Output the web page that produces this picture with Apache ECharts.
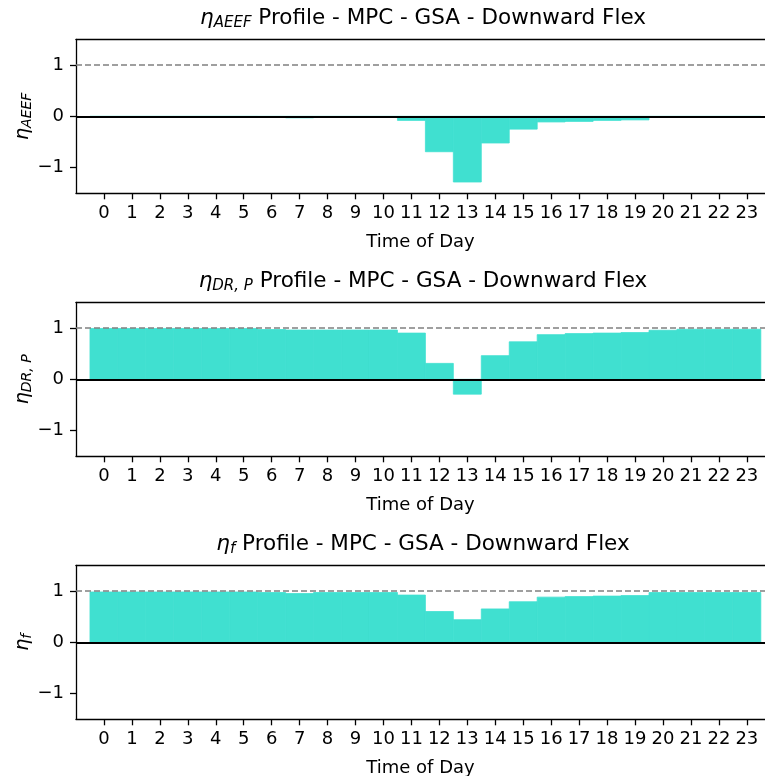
<!DOCTYPE html>
<html>
<head>
<meta charset="utf-8">
<script src="https://cdn.jsdelivr.net/npm/echarts@6/dist/echarts.min.js"></script>
<style>
html,body{margin:0;padding:0;background:#fff;}
#chart{width:765px;height:776px;}
</style>
</head>
<body>
<div id="chart"></div>
<script>
const hours = [0,1,2,3,4,5,6,7,8,9,10,11,12,13,14,15,16,17,18,19,20,21,22,23];
const etaAEEF = [-0.003,-0.003,-0.003,-0.003,-0.003,-0.003,-0.01,-0.03,-0.01,-0.01,-0.02,-0.08,-0.69,-1.28,-0.52,-0.25,-0.11,-0.10,-0.08,-0.07,-0.02,-0.01,-0.01,-0.01];
const etaDRP = [0.99,0.99,0.99,0.99,0.99,0.99,0.97,0.96,0.96,0.96,0.96,0.90,0.31,-0.29,0.46,0.73,0.87,0.89,0.90,0.91,0.955,0.975,0.975,0.975];
const etaF = [0.98,0.98,0.98,0.98,0.98,0.98,0.97,0.95,0.97,0.97,0.97,0.92,0.60,0.44,0.65,0.79,0.88,0.89,0.90,0.91,0.97,0.97,0.97,0.97];
const yTicks = [-1,0,1];
const panelSubs = ['AEEF','DR, P','f'];
const panelData = [etaAEEF, etaDRP, etaF];
const titleRest = ' Profile - MPC - GSA - Downward Flex';

const FONT = 'DejaVu Sans';
const grids = [], xAxes = [], yAxes = [], series = [], titles = [];
const TOP0 = 39.3, STEP = 263, H = 154, LEFT = 76;

const richTitle = {
  e:{fontFamily:FONT,fontStyle:'italic',fontWeight:'normal',fontSize:21.5,color:'#000'},
  s:{fontFamily:FONT,fontStyle:'italic',fontWeight:'normal',fontSize:15,color:'#000',padding:[9,0,0,0]},
  n:{fontFamily:FONT,fontWeight:'normal',fontSize:21.5,color:'#000'}
};
const richY = {
  e:{fontFamily:FONT,fontStyle:'italic',fontWeight:'normal',fontSize:19,color:'#000'},
  s:{fontFamily:FONT,fontStyle:'italic',fontWeight:'normal',fontSize:14,color:'#000',padding:[8,0,0,0]}
};

panelData.forEach((vals, i) => {
  const top = TOP0 + STEP * i;
  grids.push({left: LEFT, right: 0, top: top, height: H, containLabel:false, outerBoundsMode:'none'});
  titles.push({
    text: '{e|η}{s|' + panelSubs[i] + '}{n|' + titleRest + '}',
    left: 418, top: top - 38, textAlign: 'center',
    textStyle: {fontWeight:'normal', rich: richTitle}
  });
  xAxes.push({
    type:'value', gridIndex:i, min:-1, max:23.65, position:'bottom',
    axisLine:{show:true, onZero:false, lineStyle:{color:'#000', width:1.3}},
    axisTick:{show:true, customValues:hours, length:6, lineStyle:{color:'#000', width:1.3}},
    axisLabel:{show:true, customValues:hours, fontFamily:FONT, fontSize:18, color:'#000', margin:11},
    splitLine:{show:false},
    name:'Time of Day', nameLocation:'middle', nameGap:40,
    nameTextStyle:{fontFamily:FONT, fontSize:18, color:'#000'}
  });
  xAxes.push({
    type:'value', gridIndex:i, min:-1, max:23.65, position:'top',
    axisLine:{show:true, onZero:false, lineStyle:{color:'#000', width:1.3}},
    axisTick:{show:false}, axisLabel:{show:false}, splitLine:{show:false}
  });
  yAxes.push({
    type:'value', gridIndex:i, min:-1.5, max:1.5,
    axisLine:{show:true, onZero:false, lineStyle:{color:'#000', width:1.3}},
    axisTick:{show:true, customValues:yTicks, length:6, lineStyle:{color:'#000', width:1.3}},
    axisLabel:{show:true, customValues:yTicks, fontFamily:FONT, fontSize:18, color:'#000', margin:12,
      formatter: v => (v < 0 ? '\u2212' + Math.abs(v) : String(v))},
    splitLine:{show:false},
    name:'{e|η}{s|' + panelSubs[i] + '}', nameLocation:'middle', nameGap:42, nameRotate:90,
    nameMoveOverlap:false,
    nameTextStyle:{rich: richY}
  });
  series.push({
    type:'custom', xAxisIndex: 2*i, yAxisIndex: i,
    data: hours.map((h, k) => [h, vals[k]]),
    renderItem: (params, api) => {
      const x = api.value(0), y = api.value(1);
      const p1 = api.coord([x - 0.5, y]);
      const p0 = api.coord([x + 0.5, 0]);
      return {type:'rect', shape:{x:p1[0], y:Math.min(p1[1], p0[1]), width:p0[0]-p1[0], height:Math.abs(p0[1]-p1[1])},
        style:{fill:'#40E0D0', stroke:'#40E0D0', lineWidth:0.8}};
    },
    markLine:{
      symbol:'none', silent:true, animation:false, label:{show:false},
      data:[
        {yAxis:1, lineStyle:{color:'#808080', width:1.5, type:[6,3]}},
        {yAxis:0, lineStyle:{color:'#000', width:1.8, type:'solid'}}
      ]
    }
  });
});

const chart = echarts.init(document.getElementById('chart'), null, {renderer:'canvas'});
chart.setOption({
  animation:false,
  backgroundColor:'#fff',
  title: titles,
  grid: grids,
  xAxis: xAxes,
  yAxis: yAxes,
  series: series
});
</script>
</body>
</html>
